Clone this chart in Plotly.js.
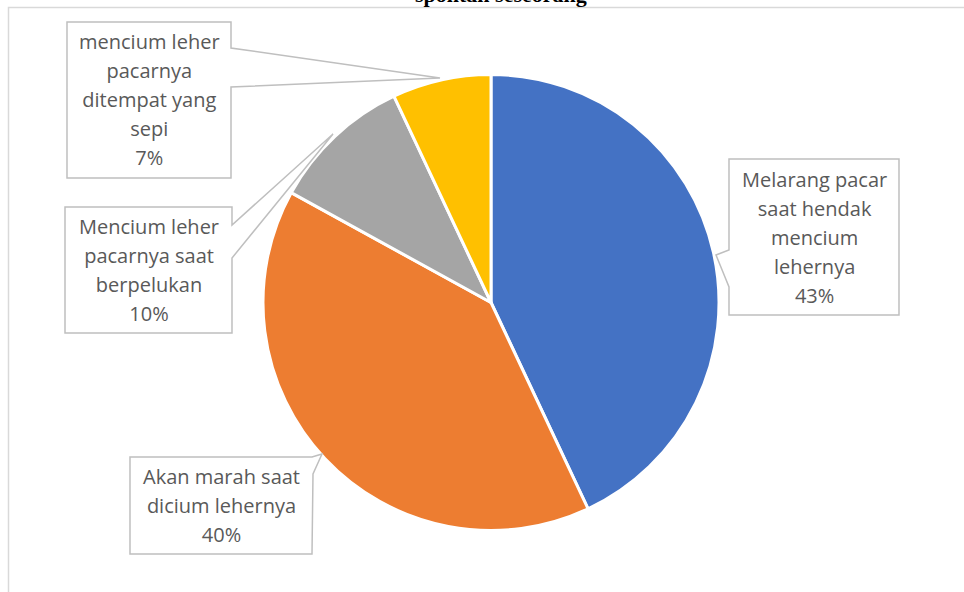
<!DOCTYPE html>
<html>
<head>
<meta charset="utf-8">
<script src="https://cdn.plot.ly/plotly-3.0.1.min.js"></script>
<style>
html,body{margin:0;padding:0;background:#fff;}
#chart{width:964px;height:592px;}
</style>
</head>
<body>
<div id="chart"></div>
<script>
// ---- data ----
const labelLines = [
  ["Melarang pacar", "saat hendak", "mencium", "lehernya"],
  ["Akan marah saat", "dicium lehernya"],
  ["Mencium leher", "pacarnya saat", "berpelukan"],
  ["mencium leher", "pacarnya", "ditempat yang", "sepi"]
];
const categories = labelLines.map(l => l.join(" "));
const values = [43, 40, 10, 7];
const colors = ["#4472C4", "#ED7D31", "#A5A5A5", "#FFC000"];
const titleText = "spontan seseorang";

// ---- layout helpers (pixel -> paper) ----
const W = 964, H = 592;
const px = x => x / W;
const py = y => 1 - y / H;
function pathOf(pts) {
  return "M " + pts.map(p => px(p[0]).toFixed(5) + " " + py(p[1]).toFixed(5)).join(" L ") + " Z";
}

// callout geometry (box + pointer), in pixels
const callouts = [
  { box: [729, 159, 899, 315],
    pts: [[729,159],[899,159],[899,315],[729,315],[729,287],[716,255],[729,250]] },
  { box: [130, 457, 312, 554],
    pts: [[130,457],[312,457],[322,454],[313,474],[312,554],[130,554]] },
  { box: [65, 207, 232, 333],
    pts: [[65,207],[232,207],[232,225],[333,134],[232,258],[232,333],[65,333]] },
  { box: [67, 22, 231, 178],
    pts: [[67,22],[231,22],[231,48],[440,78],[231,87],[231,178],[67,178]] }
];

const total = values.reduce((a, b) => a + b, 0);
const shapes = [
  { type: "rect", xref: "paper", yref: "paper",
    x0: px(8.5), x1: px(1000), y0: py(640), y1: py(7.5),
    line: { color: "#D9D9D9", width: 1.5 }, fillcolor: "rgba(0,0,0,0)", layer: "below" }
];
const annotations = [];
callouts.forEach((c, i) => {
  shapes.push({ type: "path", xref: "paper", yref: "paper", path: pathOf(c.pts),
    line: { color: "#BFBFBF", width: 1.5 }, fillcolor: "#FFFFFF", layer: "above" });
  const lines = labelLines[i].concat([Math.round(values[i] / total * 100) + "%"]);
  annotations.push({
    xref: "paper", yref: "paper",
    x: px((c.box[0] + c.box[2]) / 2), y: py((c.box[1] + c.box[3]) / 2),
    xanchor: "center", yanchor: "middle", showarrow: false, align: "center",
    text: lines.map(t => '<span style="font-size:20px">' + t + '</span>').join("<br>"),
    font: { family: "Open Sans, Noto Sans, sans-serif", size: 22.3, color: "#595959" }
  });
});
annotations.push({
  xref: "paper", yref: "paper", x: px(501), y: 1, yshift: 6,
  xanchor: "center", yanchor: "middle", showarrow: false,
  text: "<b>" + titleText + "</b>",
  font: { family: "Liberation Serif, Times New Roman, serif", size: 22, color: "#000000" }
});

const trace = {
  type: "pie",
  labels: categories,
  values: values,
  sort: false,
  direction: "clockwise",
  rotation: 0,
  marker: { colors: colors, line: { color: "#FFFFFF", width: 3 } },
  textinfo: "none",
  hoverinfo: "label+percent",
  showlegend: false,
  domain: { x: [px(491 - 228), px(491 + 228)], y: [py(530.5), py(74.5)] }
};

const layout = {
  width: W, height: H,
  margin: { l: 0, r: 0, t: 0, b: 0 },
  paper_bgcolor: "#FFFFFF",
  showlegend: false,
  shapes: shapes,
  annotations: annotations
};

Plotly.newPlot("chart", [trace], layout, { staticPlot: true, displayModeBar: false });
</script>
</body>
</html>
